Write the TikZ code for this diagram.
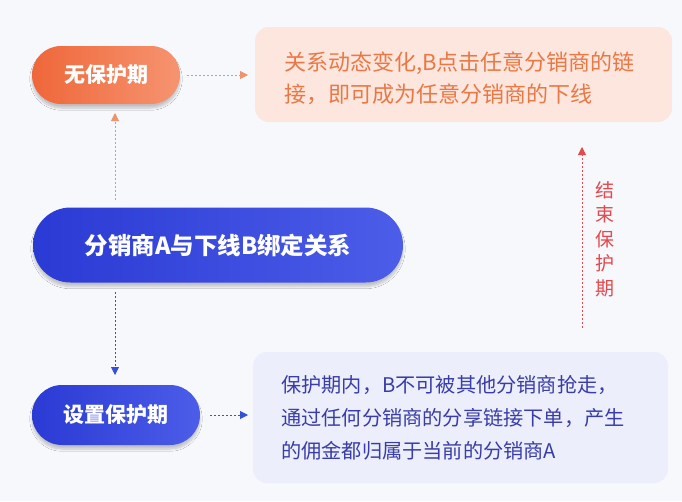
\documentclass[tikz,border=0pt]{standalone}
\usepackage{fontspec}
\setmainfont{Noto Sans CJK SC}
\usetikzlibrary{arrows.meta,shadows.blur}
\definecolor{bgc}{HTML}{F6F8FC}
\definecolor{orA}{HTML}{EF673A}
\definecolor{orB}{HTML}{F69470}
\definecolor{orT}{HTML}{EA7846}
\definecolor{orBox}{HTML}{FDE6DD}
\definecolor{blA}{HTML}{2A3AD4}
\definecolor{blB}{HTML}{4C5DE9}
\definecolor{blBox}{HTML}{ECEFFB}
\definecolor{blT}{HTML}{3A3DA8}
\definecolor{blL}{HTML}{3550D8}
\definecolor{rdL}{HTML}{E5484D}
\tikzset{
  pill/.style={text=white, font=\bfseries, inner sep=0pt,
    blur shadow={shadow xshift=0pt, shadow yshift=-4pt, shadow blur steps=10, shadow opacity=22}},
  orpill/.style={pill, left color=orA, right color=orB},
  blpill/.style={pill, left color=blA, right color=blB},
  dotarrow/.style={line width=0.9pt, dash pattern=on 2pt off 2pt, -{Triangle[length=8pt,width=8pt]}},
}
\begin{document}
\begin{tikzpicture}[x=1pt,y=-1pt]
\fill[bgc] (0,0) rectangle (682,501);
\useasboundingbox (0,0) rectangle (682,501);

% boxes
\fill[orBox, rounded corners=14pt] (255,27) rectangle (672,122);
\fill[blBox, rounded corners=14pt] (253,352) rectangle (668,483);

% pills
\node[orpill, minimum width=148pt, minimum height=58pt, rounded corners=29pt,
      font=\fontsize{21}{24}\selectfont\bfseries] (nop) at (106,75) {无保护期};
\node[blpill, minimum width=370pt, minimum height=75pt, rounded corners=37.5pt,
      font=\fontsize{23.5}{28}\selectfont\bfseries] (bind) at (218,245) {分销商A与下线B绑定关系};
\node[blpill, minimum width=168pt, minimum height=60pt, rounded corners=30pt,
      font=\fontsize{21}{24}\selectfont\bfseries] (set) at (116,415) {设置保护期};

% texts
\node[anchor=west, align=left, inner sep=0pt, text=orT,
      font=\fontsize{22}{32}\selectfont] (otext) at (284,78)
  {关系动态变化,B点击任意分销商的链\\接，即可成为任意分销商的下线};
\node[anchor=west, align=left, inner sep=0pt, text=blT,
      font=\fontsize{20.2}{33}\selectfont] (btext) at (281,418)
  {保护期内，B不可被其他分销商抢走，\\通过任何分销商的分享链接下单，产生\\的佣金都归属于当前的分销商A};
\node[align=center, inner sep=0pt, text=rdL,
      font=\fontsize{19}{24.5}\selectfont] (endl) at (605,239)
  {结\\束\\保\\护\\期};

% connectors
\coordinate (a1s) at (187,75);  \coordinate (a1e) at (248,75);
\draw[dotarrow, orT!80] (a1s) -- (a1e);
\coordinate (a2s) at (115,200); \coordinate (a2e) at (115,113);
\draw[dotarrow, orT!80] (a2s) -- (a2e);
\coordinate (a3s) at (115,292); \coordinate (a3e) at (115,375);
\draw[dotarrow, blL] (a3s) -- (a3e);
\coordinate (a4s) at (210,415); \coordinate (a4e) at (248,415);
\draw[dotarrow, blL] (a4s) -- (a4e);
\coordinate (a5s) at (582,328); \coordinate (a5e) at (582,147);
\draw[dotarrow, rdL] (a5s) -- (a5e);
\end{tikzpicture}
\end{document}
